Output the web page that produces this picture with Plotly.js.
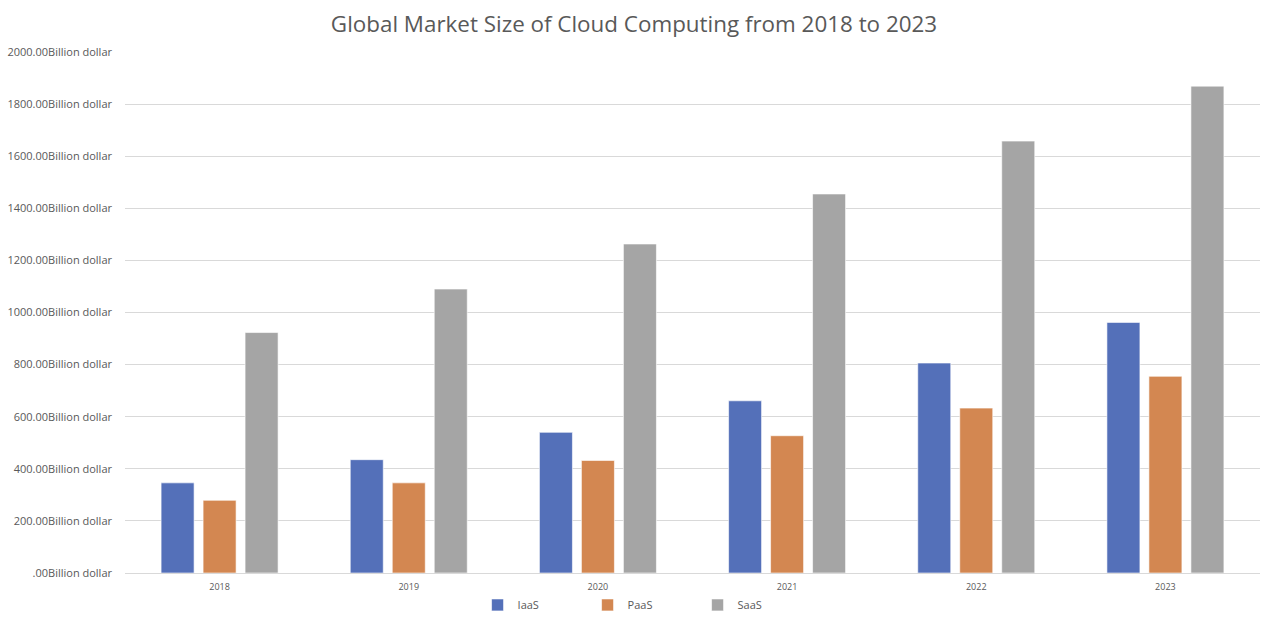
<!DOCTYPE html>
<html>
<head>
<meta charset="utf-8">
<script src="https://cdn.plot.ly/plotly-3.0.1.min.js"></script>
<style>html,body{margin:0;padding:0;background:#fff;}#chart{width:1268px;height:623px;}</style>
</head>
<body>
<div id="chart"></div>
<script>
const years = ["2018", "2019", "2020", "2021", "2022", "2023"];
const iaas = [346, 435, 540, 661, 806, 962];
const paas = [279, 346, 432, 527, 633, 755];
const saas = [923, 1090, 1263, 1455, 1658, 1869];
const yTickVals = [0, 200, 400, 600, 800, 1000, 1200, 1400, 1600, 1800, 2000];
const yTickText = [".00Billion dollar", "200.00Billion dollar", "400.00Billion dollar", "600.00Billion dollar", "800.00Billion dollar", "1000.00Billion dollar", "1200.00Billion dollar", "1400.00Billion dollar", "1600.00Billion dollar", "1800.00Billion dollar", "2000.00Billion dollar"];

const font = "Open Sans, Liberation Sans, sans-serif";
function tr(name, y, color) {
  return {type: "bar", name: name, x: years, y: y,
    marker: {color: color, line: {color: "rgba(255,255,255,0.6)", width: 1}}};
}
const data = [tr("IaaS", iaas, "#5470b9"), tr("PaaS", paas, "#d38751"), tr("SaaS", saas, "#a5a5a5")];
const layout = {
  width: 1268, height: 623,
  margin: {l: 125, r: 8, t: 52, b: 50, autoexpand: false},
  paper_bgcolor: "#fff", plot_bgcolor: "#fff",
  title: {text: "Global Market Size of Cloud Computing from 2018 to 2023", x: 0.5, xanchor: "center", y: 0.962, yanchor: "middle",
    font: {family: font, size: 22.4, color: "#595959"}},
  barmode: "group", bargap: 0.334, bargroupgap: 0.214,
  xaxis: {type: "category", tickfont: {family: font, size: 9, color: "#595959"}, showgrid: false, ticks: "", showline: true, linecolor: "#d9d9d9", ticklabelstandoff: 5},
  yaxis: {range: [0, 2000], tickvals: yTickVals, ticktext: yTickText, showgrid: true, gridcolor: "#d9d9d9", zeroline: false,
    tickfont: {family: font, size: 11, color: "#595959"}, ticks: "", ticklabelstandoff: 12},
  legend: {orientation: "h", x: 0.456, xanchor: "center", yref: "container", y: 0.029, yanchor: "middle", entrywidth: 65, itemwidth: 30,
    font: {family: font, size: 11, color: "#595959"}},
  showlegend: true
};
Plotly.newPlot("chart", data, layout, {displayModeBar: false, staticPlot: true});
</script>
</body>
</html>
